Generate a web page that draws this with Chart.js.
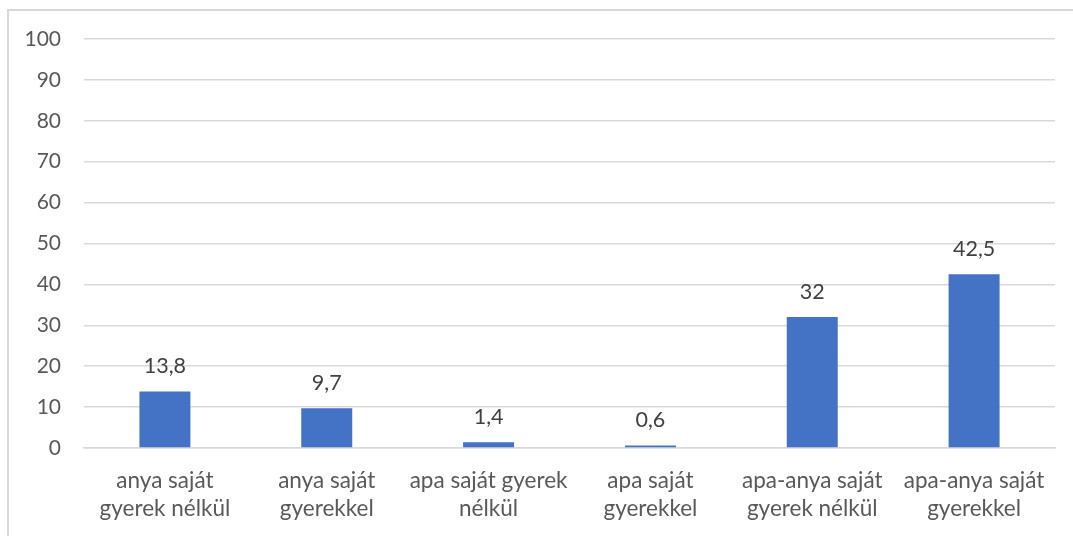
<!DOCTYPE html>
<html>
<head>
<meta charset="utf-8">
<script src="https://cdn.jsdelivr.net/npm/chart.js@4/dist/chart.umd.min.js"></script>
<style>
  html, body { margin: 0; padding: 0; background: #fff; }
  #wrap { position: relative; width: 1073px; height: 536px; overflow: hidden; }
  #frame { position: absolute; left: 7px; top: 9px; width: 1200px; height: 700px;
           border-left: 2px solid #d9d9d9; border-top: 2px solid #d9d9d9; }
  canvas { position: absolute; left: 0; top: 0; }
</style>
</head>
<body>
<div id="wrap">
  <div id="frame"></div>
  <canvas id="myChart" width="1073" height="536"></canvas>
</div>
<script>
const categories = [
  ['anya saját', 'gyerek nélkül'],
  ['anya saját', 'gyerekkel'],
  ['apa saját gyerek', 'nélkül'],
  ['apa saját', 'gyerekkel'],
  ['apa-anya saját', 'gyerek nélkül'],
  ['apa-anya saját', 'gyerekkel']
];
const values = [13.8, 9.7, 1.4, 0.6, 32, 42.5];
const yTicks = [0, 10, 20, 30, 40, 50, 60, 70, 80, 90, 100];

const fmt = v => String(v).replace('.', ',');

// labels above the bars
const barLabels = {
  id: 'barLabels',
  afterDatasetsDraw(chart) {
    const ctx = chart.ctx;
    ctx.save();
    ctx.font = '21.5px Lato';
    ctx.fillStyle = '#404040';
    ctx.textAlign = 'center';
    ctx.textBaseline = 'middle';
    chart.getDatasetMeta(0).data.forEach((bar, i) => {
      ctx.fillText(fmt(values[i]), bar.x, bar.y - 25);
    });
    ctx.restore();
  }
};

Chart.defaults.font.family = 'Lato';
Chart.defaults.font.size = 21;
Chart.defaults.color = '#595959';

const config = {
  type: 'bar',
  data: {
    labels: categories,
    datasets: [{
      data: values,
      backgroundColor: '#4472C4',
      barPercentage: 0.315,
      categoryPercentage: 1
    }]
  },
  options: {
    responsive: false,
    animation: false,
    layout: { padding: { top: 39, right: 18, left: 0, bottom: 0 } },
    plugins: { legend: { display: false }, tooltip: { enabled: false } },
    scales: {
      y: {
        min: 0,
        max: 100,
        afterFit: s => { s.width = 84; },
        afterBuildTicks: s => { s.ticks = yTicks.map(v => ({ value: v })); },
        grid: { color: '#d9d9d9', lineWidth: 1.5, drawTicks: false },
        border: { display: false },
        ticks: { padding: 23, font: { size: 21 } }
      },
      x: {
        afterFit: s => { s.height = 88; },
        grid: { display: false },
        border: { color: '#d9d9d9', width: 1.5 },
        ticks: { padding: 11, maxRotation: 0, autoSkip: false, font: { size: 22.5, lineHeight: 1.24 } }
      }
    }
  },
  plugins: [barLabels]
};

document.fonts.load('21px Lato').then(() => {
  new Chart(document.getElementById('myChart'), config);
});
</script>
</body>
</html>
